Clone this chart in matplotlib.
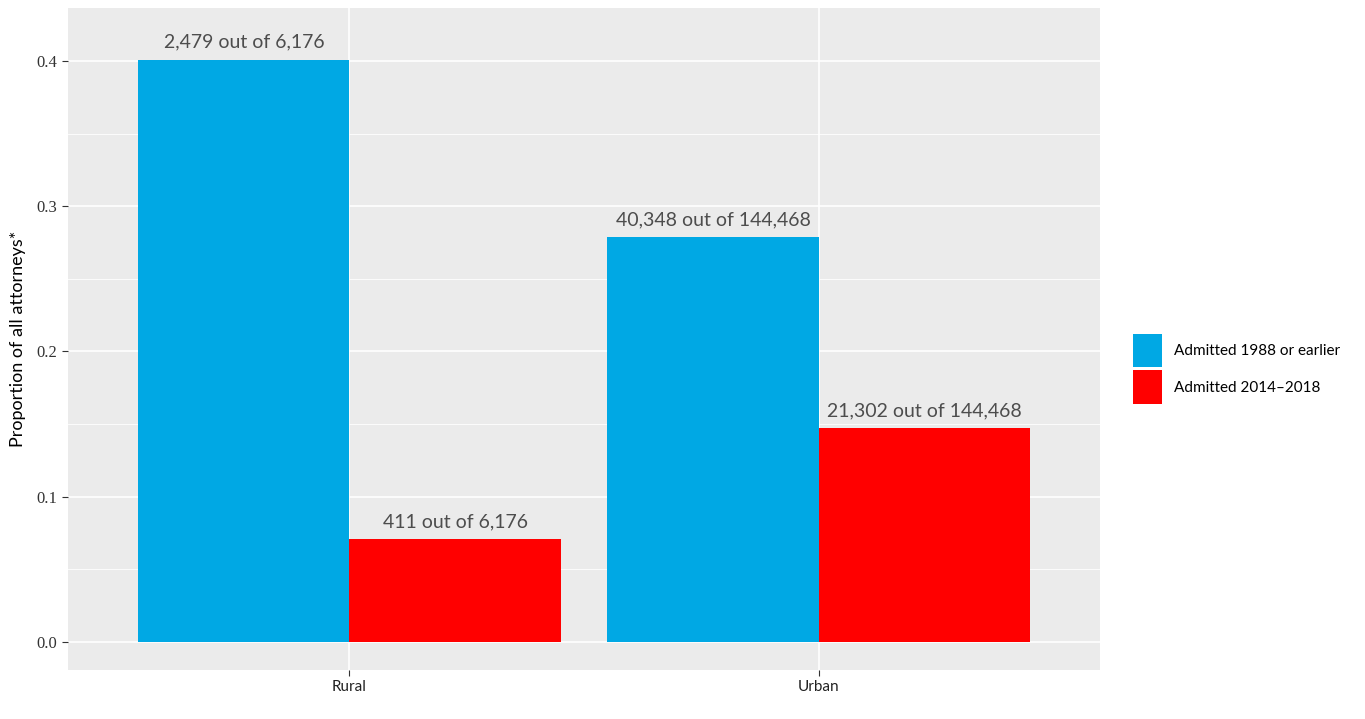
import matplotlib.pyplot as plt
from matplotlib.patches import Patch
import numpy as np

regions = ['Rural', 'Urban']
groups = ['Admitted 1988 or earlier', 'Admitted 2014\u20132018']
colors = ['#00A8E4', '#FF0000']
proportions = [[0.401, 0.279], [0.071, 0.147]]
labels = [['2,479 out of 6,176', '40,348 out of 144,468'],
          ['411 out of 6,176', '21,302 out of 144,468']]


def main() -> None:
  fig = plt.figure(figsize=(13.65, 7.19), dpi=100)
  ax = fig.add_axes([0.0498, 0.0682, 0.7561, 0.9207])
  ax.set_facecolor('#EBEBEB')

  x = np.arange(1, len(regions) + 1)
  width = 0.45
  for i, (vals, col) in enumerate(zip(proportions, colors)):
    pos = x + (i - 0.5) * width
    ax.bar(pos, vals, width=width, color=col, zorder=3)
    for p, v, lab in zip(pos, vals, labels[i]):
      ax.text(p, v + 0.006, lab, ha='center', va='bottom', fontsize=14,
              family='Lato', color='#4D4D4D', zorder=4)

  ax.set_xlim(0.4, 2.6)
  ax.set_ylim(-0.0193, 0.4365)
  ax.set_yticks([0.0, 0.1, 0.2, 0.3, 0.4])
  ax.set_yticklabels(['0.0', '0.1', '0.2', '0.3', '0.4'], family='Liberation Serif',
                     fontsize=12, color='#333333')
  ax.set_yticks([0.05, 0.15, 0.25, 0.35], minor=True)
  ax.set_xticks(x)
  ax.set_xticklabels(regions, family='Lato', fontsize=11, color='#222222')
  ax.grid(True, which='major', color='white', linewidth=1.2, zorder=0)
  ax.grid(True, which='minor', axis='y', color='white', linewidth=0.6, zorder=0)
  ax.tick_params(which='minor', length=0)
  ax.tick_params(which='major', length=4, color='#333333', width=0.8)
  for s in ax.spines.values():
    s.set_visible(False)
  ax.set_ylabel('Proportion of all attorneys*', family='Lato', fontsize=13, labelpad=8)

  handles = [Patch(facecolor=c, edgecolor='none', label=g) for c, g in zip(colors, groups)]
  fig.legend(handles=handles, loc='center left', bbox_to_anchor=(0.820, 0.487),
             frameon=False, prop={'family': 'Lato', 'size': 11},
             handlelength=1.9, handleheight=3.0, handletextpad=0.8, labelspacing=0.2)

  fig.savefig('out.png', dpi=100)


if __name__ == '__main__':
  main()
